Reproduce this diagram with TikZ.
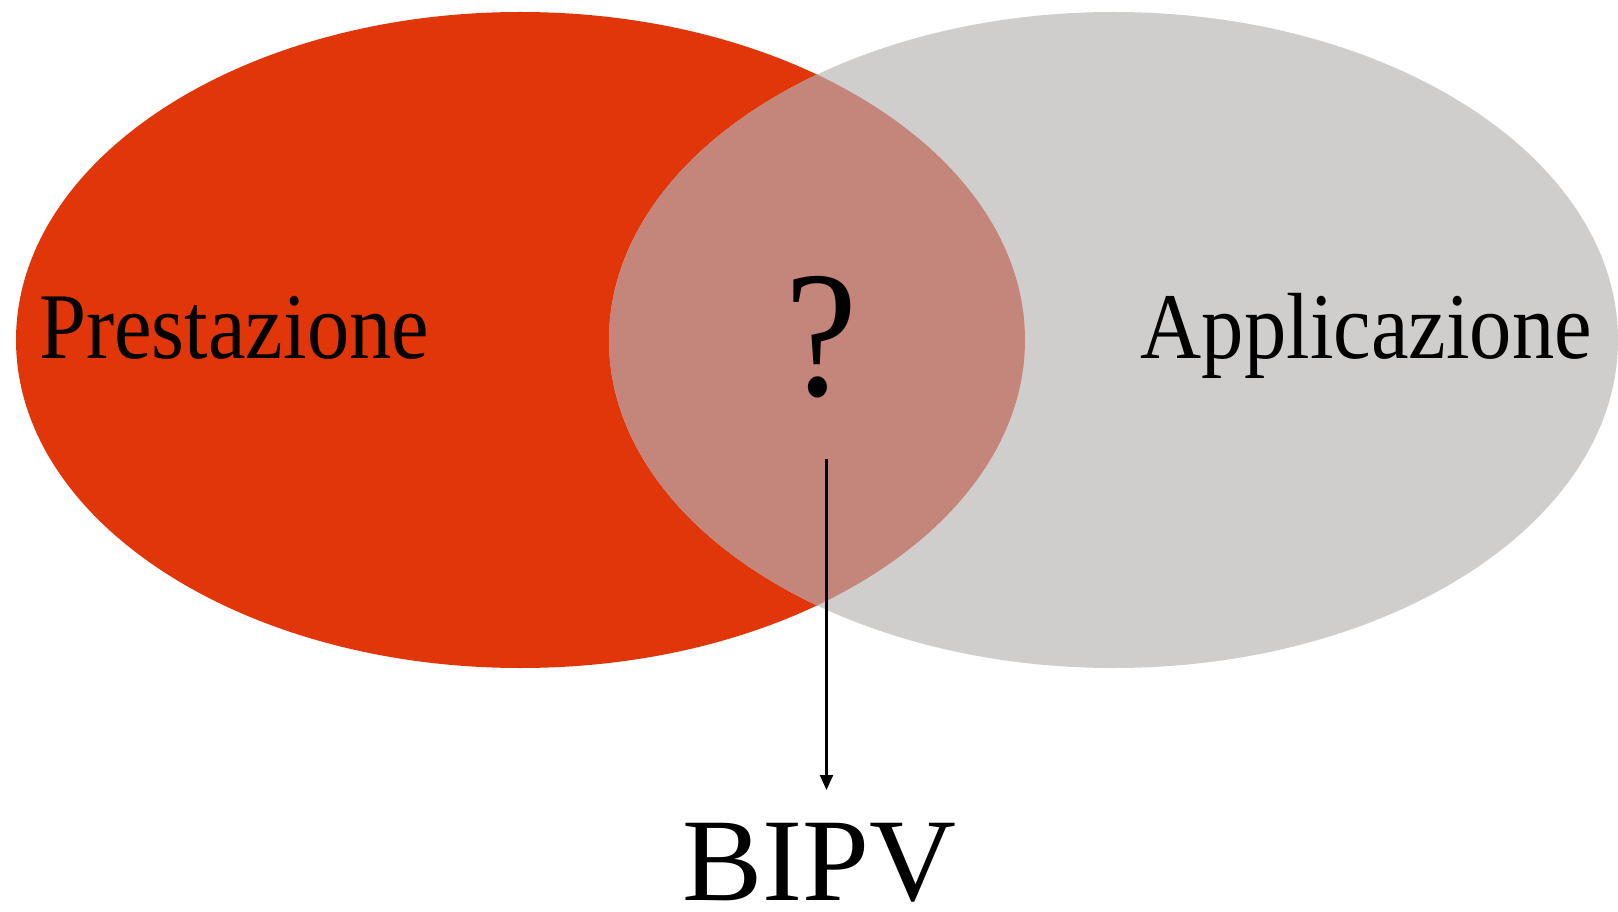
\documentclass[tikz,border=0pt]{standalone}
\usepackage{fontspec}
\setmainfont{Liberation Serif}
\usetikzlibrary{arrows.meta}
\definecolor{redc}{HTML}{E0360A}
\definecolor{grayc}{HTML}{D0CECD}
\definecolor{mixc}{HTML}{C4857A}
\tikzset{
  lbl/.style={inner sep=0pt, text=black, xscale=0.9},
  conn/.style={line width=2.2pt, -{Triangle[length=15pt,width=13pt]}},
}
\begin{document}
\begin{tikzpicture}[x=1pt,y=-1pt]
\useasboundingbox (0,0) rectangle (1618,912);
\fill[redc] (520.5,340) ellipse [x radius=504.5, y radius=328];
\fill[grayc] (1113.5,340) ellipse [x radius=504.5, y radius=328];
\begin{scope}
  \clip (520.5,340) ellipse [x radius=504.5, y radius=328];
  \fill[mixc] (1113.5,340) ellipse [x radius=504.5, y radius=328];
\end{scope}
\node[lbl, anchor=base west, font=\fontsize{94}{94}\selectfont] (pres) at (39,358) {Prestazione};
\node[lbl, anchor=base east, font=\fontsize{94}{94}\selectfont] (appl) at (1592,358) {Applicazione};
\node[lbl, anchor=base, font=\fontsize{180}{180}\selectfont] (q) at (821,395) {?};
\node[lbl, xscale=1.02/0.9, anchor=base, font=\fontsize{118}{118}\selectfont] (bipv) at (819.5,900) {BIPV};
\coordinate (astart) at (826.5,459);
\coordinate (aend) at (826.5,790);
\draw[conn] (astart) -- (aend);
\end{tikzpicture}
\end{document}
